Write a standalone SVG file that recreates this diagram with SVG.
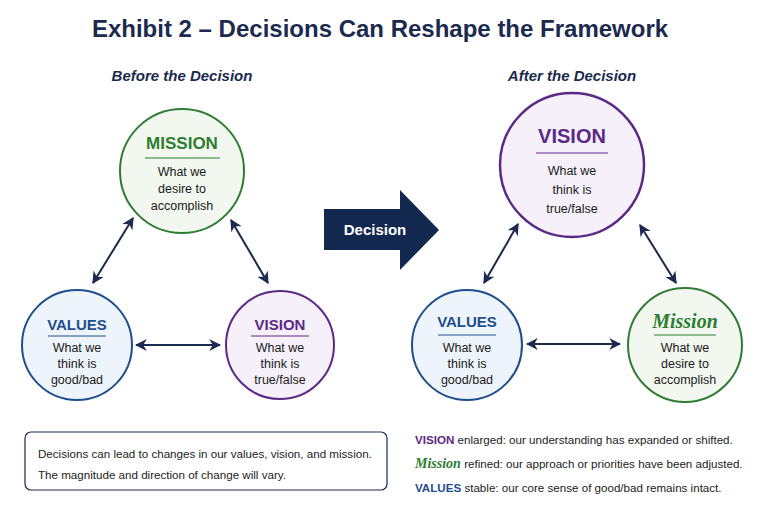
<svg xmlns="http://www.w3.org/2000/svg" width="779" height="520" viewBox="0 0 779 520">
<style>
text{font-family:"Liberation Sans",Arial,sans-serif;}
.sub{font-size:12.5px;fill:#1a1a1a;text-anchor:middle;}
.h{font-weight:bold;text-anchor:middle;}
.con{stroke:#1b2a4e;stroke-width:2;fill:none;marker-start:url(#a);marker-end:url(#a);}
.leg{font-size:11.6px;fill:#222;}
</style>
<defs>
<marker id="a" viewBox="0 0 10 10" refX="9" refY="5" markerWidth="6" markerHeight="6" orient="auto-start-reverse"><path d="M0,0L10,5L0,10L3,5Z" fill="#1b2a4e"/></marker>
</defs>
<rect width="779" height="520" fill="#fff"/>
<text x="380" y="37" class="h" font-size="24" fill="#1b2a4e">Exhibit 2 – Decisions Can Reshape the Framework</text>
<text x="182" y="81" class="h" font-size="15" font-style="italic" fill="#1b2a4e">Before the Decision</text>
<text x="572" y="81" class="h" font-size="15" font-style="italic" fill="#1b2a4e">After the Decision</text>

<g id="mission-before">
<circle cx="182" cy="171" r="62" fill="#f2f8ef" stroke="#2e7d32" stroke-width="2"/>
<text x="182" y="149" class="h" font-size="17" fill="#2e7d32">MISSION</text>
<line x1="145" y1="158" x2="220" y2="158" stroke="#2e7d32" stroke-width="1.2"/>
<text x="182" y="176" class="sub">What we</text><text x="182" y="193" class="sub">desire to</text><text x="182" y="210" class="sub">accomplish</text>
</g>
<g id="values-before">
<circle cx="77" cy="345" r="55" fill="#eef4fb" stroke="#1f4e8c" stroke-width="2"/>
<text x="77" y="330" class="h" font-size="15" fill="#1f4e8c">VALUES</text>
<line x1="48" y1="336" x2="106" y2="336" stroke="#1f4e8c" stroke-width="1.2"/>
<text x="77" y="352" class="sub">What we</text><text x="77" y="368" class="sub">think is</text><text x="77" y="384" class="sub">good/bad</text>
</g>
<g id="vision-before">
<circle cx="280" cy="345" r="54" fill="#f5f0fa" stroke="#5b2a86" stroke-width="2"/>
<text x="280" y="330" class="h" font-size="15" fill="#5b2a86">VISION</text>
<line x1="251" y1="336" x2="309" y2="336" stroke="#5b2a86" stroke-width="1.2"/>
<text x="280" y="352" class="sub">What we</text><text x="280" y="368" class="sub">think is</text><text x="280" y="384" class="sub">true/false</text>
</g>

<g id="decision">
<path d="M324,209H400V190L439,230L400,270V250H324Z" fill="#12284f"/>
<text x="375" y="235" class="h" font-size="15" fill="#fff">Decision</text>
</g>

<g id="vision-after">
<circle cx="572" cy="165" r="72" fill="#f5f0fa" stroke="#5b2a86" stroke-width="2.5"/>
<text x="572" y="143" class="h" font-size="20" fill="#5b2a86">VISION</text>
<line x1="536" y1="153" x2="608" y2="153" stroke="#5b2a86" stroke-width="1.2"/>
<text x="572" y="175" class="sub" font-size="14">What we</text><text x="572" y="194" class="sub" font-size="14">think is</text><text x="572" y="213" class="sub" font-size="14">true/false</text>
</g>
<g id="values-after">
<circle cx="467" cy="345" r="55" fill="#eef4fb" stroke="#1f4e8c" stroke-width="2"/>
<text x="467" y="327" class="h" font-size="15" fill="#1f4e8c">VALUES</text>
<line x1="438" y1="335" x2="496" y2="335" stroke="#1f4e8c" stroke-width="1.2"/>
<text x="467" y="352" class="sub">What we</text><text x="467" y="368" class="sub">think is</text><text x="467" y="384" class="sub">good/bad</text>
</g>
<g id="mission-after">
<circle cx="685" cy="345" r="57" fill="#f2f8ef" stroke="#2e7d32" stroke-width="2"/>
<text x="685" y="328" class="h" font-size="20" font-style="italic" fill="#2e7d32" style="font-family:'Liberation Serif',serif">Mission</text>
<line x1="654" y1="335" x2="716" y2="335" stroke="#2e7d32" stroke-width="1.2"/>
<text x="685" y="352" class="sub">What we</text><text x="685" y="368" class="sub">desire to</text><text x="685" y="384" class="sub">accomplish</text>
</g>

<g id="connectors">
<line class="con" x1="133" y1="218" x2="93" y2="283"/>
<line class="con" x1="231" y1="220" x2="268" y2="283"/>
<line class="con" x1="136" y1="345" x2="220" y2="345"/>
<line class="con" x1="518" y1="224" x2="484" y2="283"/>
<line class="con" x1="640" y1="225" x2="676" y2="283"/>
<line class="con" x1="527" y1="344" x2="620" y2="344"/>
</g>

<g id="note">
<rect x="25" y="432" width="362" height="58" rx="6" fill="#fff" stroke="#1b2a4e" stroke-width="1.2"/>
<text x="38" y="458" class="leg">Decisions can lead to changes in our values, vision, and mission.</text>
<text x="38" y="479" class="leg">The magnitude and direction of change will vary.</text>
</g>
<g id="legend">
<text x="415" y="444" class="leg"><tspan font-weight="bold" fill="#5b2a86">VISION</tspan> enlarged: our understanding has expanded or shifted.</text>
<text x="415" y="468" class="leg"><tspan font-weight="bold" font-style="italic" fill="#2e7d32" font-size="14" style="font-family:'Liberation Serif',serif">Mission</tspan> refined: our approach or priorities have been adjusted.</text>
<text x="415" y="492" class="leg"><tspan font-weight="bold" fill="#1f4e8c">VALUES</tspan> stable: our core sense of good/bad remains intact.</text>
</g>
</svg>
